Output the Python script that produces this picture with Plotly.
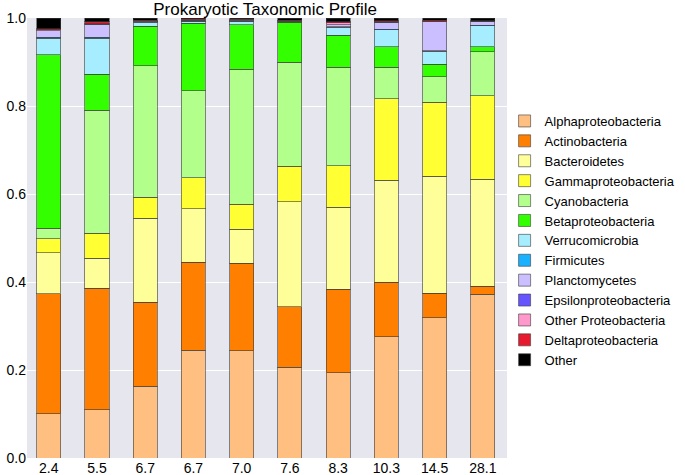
import plotly.graph_objects as go

samples = ["2.4", "5.5", "6.7", "6.7", "7.0", "7.6", "8.3", "10.3", "14.5", "28.1"]

taxa = ["Alphaproteobacteria", "Actinobacteria", "Bacteroidetes", "Gammaproteobacteria",
        "Cyanobacteria", "Betaproteobacteria", "Verrucomicrobia", "Firmicutes",
        "Planctomycetes", "Epsilonproteobacteria", "Other Proteobacteria",
        "Deltaproteobacteria", "Other"]

alphaproteobacteria = [0.101, 0.110, 0.163, 0.245, 0.244, 0.206, 0.194, 0.276, 0.319, 0.372]
actinobacteria      = [0.272, 0.276, 0.191, 0.200, 0.199, 0.138, 0.190, 0.124, 0.055, 0.018]
bacteroidetes       = [0.094, 0.068, 0.191, 0.121, 0.077, 0.238, 0.186, 0.231, 0.266, 0.244]
gammaproteobacteria = [0.031, 0.057, 0.048, 0.071, 0.057, 0.081, 0.094, 0.185, 0.168, 0.189]
cyanobacteria       = [0.024, 0.279, 0.299, 0.198, 0.307, 0.236, 0.224, 0.072, 0.058, 0.100]
betaproteobacteria  = [0.394, 0.082, 0.089, 0.153, 0.101, 0.091, 0.073, 0.047, 0.029, 0.012]
verrucomicrobia     = [0.038, 0.082, 0.009, 0.004, 0.007, 0.003, 0.018, 0.038, 0.030, 0.047]
firmicutes          = [0.002, 0.002, 0.001, 0.0005, 0.001, 0.000, 0.001, 0.001, 0.001, 0.001]
planctomycetes      = [0.015, 0.030, 0.001, 0.002, 0.001, 0.001, 0.005, 0.016, 0.066, 0.010]
epsilonproteobacteria = [0.000, 0.000, 0.000, 0.000, 0.000, 0.000, 0.000, 0.000, 0.000, 0.000]
other_proteobacteria  = [0.002, 0.001, 0.001, 0.0015, 0.001, 0.000, 0.004, 0.002, 0.000, 0.000]
deltaproteobacteria   = [0.003, 0.004, 0.002, 0.002, 0.002, 0.001, 0.002, 0.002, 0.003, 0.001]
other               = [0.024, 0.009, 0.005, 0.002, 0.003, 0.005, 0.009, 0.006, 0.005, 0.006]

series = [alphaproteobacteria, actinobacteria, bacteroidetes, gammaproteobacteria,
          cyanobacteria, betaproteobacteria, verrucomicrobia, firmicutes,
          planctomycetes, epsilonproteobacteria, other_proteobacteria,
          deltaproteobacteria, other]

colors = ["#FFBF80", "#FF8000", "#FFFF99", "#FFFF33", "#B2FF8C", "#33FF00",
          "#A6EEFF", "#1AB2FF", "#CCBFFF", "#6655FF", "#FF99CC", "#E6192E", "#000000"]

y_ticks = [0.0, 0.2, 0.4, 0.6, 0.8, 1.0]

x_pos = list(range(len(samples)))

fig = go.Figure()
for name, vals, col in zip(taxa, series, colors):
    fig.add_trace(go.Bar(
        x=x_pos, y=vals, name=name, width=0.5,
        marker=dict(color=col, line=dict(color="rgba(60,60,60,0.6)", width=1)),
    ))

fig.update_layout(
    width=685, height=475,
    barmode="stack",
    paper_bgcolor="white",
    plot_bgcolor="#E6E6EF",
    font=dict(family="Arial, Liberation Sans, sans-serif", size=14, color="black"),
    title=dict(text="Prokaryotic Taxonomic Profile", x=0.387, xanchor="center",
               y=0.993, yanchor="top", font=dict(size=17)),
    margin=dict(l=27, r=178, t=18, b=17, autoexpand=False),
    showlegend=True,
    legend=dict(x=0.995, xanchor="left", y=0.80, yanchor="top",
                traceorder="normal", font=dict(size=13), bgcolor="rgba(0,0,0,0)",
                tracegroupgap=0),
    xaxis=dict(tickmode="array", tickvals=x_pos, ticktext=samples,
               range=[-0.45, 9.5], showgrid=False, zeroline=False,
               showline=False, ticks="", automargin=False),
    yaxis=dict(tickmode="array", tickvals=y_ticks,
               ticktext=[f"{t:.1f}" for t in y_ticks],
               range=[0, 1.0], showgrid=True, gridcolor="white", gridwidth=1,
               zeroline=False, showline=False, ticks="", automargin=False),
)

fig.write_html("out.html", config={"displayModeBar": False},
               post_script="document.body.style.margin='0';")
